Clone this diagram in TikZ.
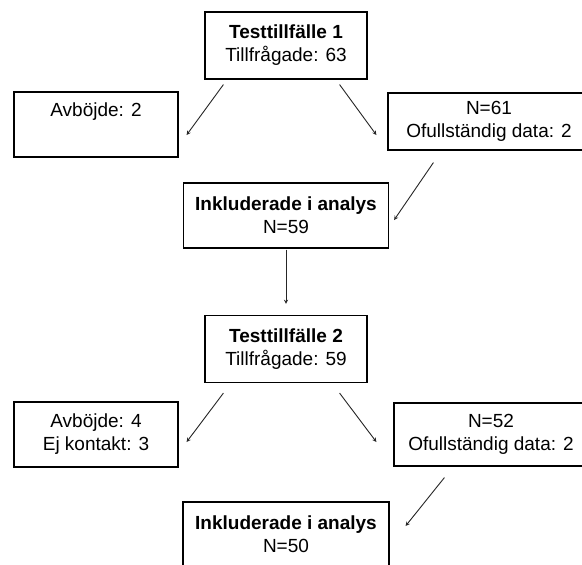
\documentclass[tikz,border=0pt]{standalone}
\usepackage{fontspec}
\setmainfont{Liberation Sans}
\usetikzlibrary{arrows}
\tikzstyle{stage} = [rectangle, draw=black, line width=1.2pt, align=center, inner sep=0pt, minimum height=65pt, font=\fontsize{19}{23}\selectfont]
\tikzstyle{occasion} = [stage, minimum width=162pt, minimum height=67pt]
\tikzstyle{dropout} = [stage, minimum width=164pt]
\tikzstyle{arrow} = [draw=black!85, line width=0.9pt, ->, >=stealth]

\begin{document}
\begin{tikzpicture}[node distance=190pt]
\useasboundingbox (0,0) rectangle (582pt,-565pt);
\clip (0,0) rectangle (582pt,-565pt);
\fill[white] (0,0) rectangle (582pt,-565pt);

\node (t1) [occasion] at (286pt,-45.5pt) {\textbf{Testtillfälle 1}\\Tillfrågade: 63};
\node (avb1) [dropout, left of=t1, yshift=-79pt] {Avböjde: 2\\\strut};
\node (n61) [stage, minimum width=202pt, minimum height=57pt, right of=t1, xshift=13pt, yshift=-76pt] {N=61\\Ofullständig data: 2};
\node (inc1) [stage, minimum width=205pt, below of=t1, yshift=20pt] {\textbf{Inkluderade i analys}\\N=59};

\node (t2) [occasion, below of=inc1, yshift=56.5pt] {\textbf{Testtillfälle 2}\\Tillfrågade: 59};
\node (avb2) [dropout, left of=t2, yshift=-85.5pt] {Avböjde: 4\\Ej kontakt: 3};
\node (n52) [stage, minimum width=194pt, minimum height=63pt, right of=t2, xshift=15pt, yshift=-85.5pt] {N=52\\Ofullständig data: 2};
\node (inc2) [stage, minimum width=206pt, below of=t2, yshift=4.5pt] {\textbf{Inkluderade i analys}\\N=50};

\draw [arrow] ([xshift=19pt,yshift=-5pt]t1.south west) -- ([xshift=8pt,yshift=-10.5pt]avb1.east);
\draw [arrow] ([xshift=-28pt,yshift=-5pt]t1.south east) -- ([xshift=-11pt,yshift=-13.5pt]n61.west);
\draw [arrow] ([xshift=46pt,yshift=-12pt]n61.south west) -- ([xshift=5pt,yshift=-4.5pt]inc1.east);
\draw [arrow] ([yshift=-1pt]inc1.south) -- ([yshift=11pt]t2.north);
\draw [arrow] ([xshift=19pt,yshift=-10pt]t2.south west) -- ([xshift=8pt,yshift=-7.5pt]avb2.east);
\draw [arrow] ([xshift=-28pt,yshift=-10pt]t2.south east) -- ([xshift=-17pt,yshift=-7.5pt]n52.west);
\draw [arrow] ([xshift=51pt,yshift=-11pt]n52.south west) -- ([xshift=16pt,yshift=8.5pt]inc2.east);
\end{tikzpicture}
\end{document}
